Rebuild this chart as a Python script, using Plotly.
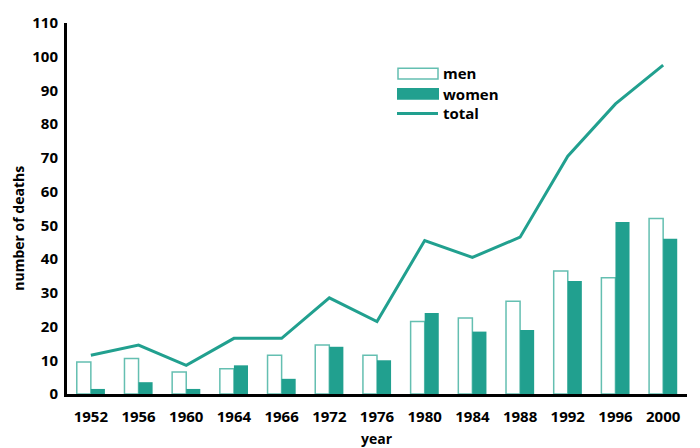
import plotly.graph_objects as go

years = ["1952", "1956", "1960", "1964", "1966", "1972", "1976", "1980",
         "1984", "1988", "1992", "1996", "2000"]
men = [9.5, 10.5, 6.5, 7.5, 11.5, 14.5, 11.5, 21.5, 22.5, 27.5, 36.5, 34.5, 52]
women = [1.5, 3.5, 1.5, 8.5, 4.5, 14, 10, 24, 18.5, 19, 33.5, 51, 46]
total = [11.5, 14.5, 8.5, 16.5, 16.5, 28.5, 21.5, 45.5, 40.5, 46.5, 70.5, 86, 97.5]
y_ticks = list(range(0, 111, 10))

TEAL = "#21a08f"
TEAL_LIGHT = "#64bfb1"
FONT = "Open Sans"

W, H = 700, 448
L, R, T, B = 67, 13, 17, 54
pw, ph = W - L - R, H - T - B


def px(x):
    return (x - L) / pw


def py(y):
    return (H - B - y) / ph


fig = go.Figure()
fig.add_trace(go.Bar(x=years, y=men, name="men",
                     marker=dict(color="white", line=dict(color=TEAL_LIGHT, width=1.5))))
fig.add_trace(go.Bar(x=years, y=women, name="women",
                     marker=dict(color=TEAL, line=dict(width=0))))
fig.add_trace(go.Scatter(x=years, y=total, name="total", mode="lines",
                         line=dict(color=TEAL, width=3)))

shapes = [
    dict(type="rect", xref="paper", yref="paper",
         x0=px(398), x1=px(438), y0=py(74), y1=py(63),
         fillcolor="white", line=dict(color=TEAL_LIGHT, width=1.5)),
    dict(type="rect", xref="paper", yref="paper",
         x0=px(397), x1=px(439), y0=py(95), y1=py(83),
         fillcolor=TEAL, line=dict(width=0)),
    dict(type="line", xref="paper", yref="paper",
         x0=px(397), x1=px(438), y0=py(109), y1=py(109),
         line=dict(color=TEAL, width=3)),
]
annotations = []
for label, yy in [("men", 68), ("women", 89), ("total", 108)]:
    annotations.append(dict(text=label, xref="paper", yref="paper",
                            x=px(441), y=py(yy), xanchor="left", yanchor="middle",
                            showarrow=False,
                            font=dict(family=FONT, size=15, color="black", weight="bold")))
annotations.append(dict(text="number of deaths", xref="paper", yref="paper",
                        x=px(19), y=py(226), xanchor="center", yanchor="middle",
                        textangle=-90, showarrow=False,
                        font=dict(family=FONT, size=14, color="black", weight="bold")))
annotations.append(dict(text="year", xref="paper", yref="paper",
                        x=px(377), y=py(439), xanchor="center", yanchor="middle",
                        showarrow=False,
                        font=dict(family=FONT, size=14, color="black", weight="bold")))

fig.update_layout(
    width=W, height=H,
    margin=dict(l=L, r=R, t=T, b=B, pad=0),
    paper_bgcolor="white", plot_bgcolor="white",
    barmode="group", bargap=0.41, bargroupgap=0,
    showlegend=False, hovermode=False,
    shapes=shapes, annotations=annotations,
    font=dict(family=FONT, size=15, color="black", weight="bold"),
)
fig.update_xaxes(type="category", range=[-0.5, 12.5], showline=True, linecolor="black",
                 linewidth=3, showgrid=False, ticks="", ticklabelstandoff=7,
                 tickfont=dict(family=FONT, size=15, color="black", weight="bold"))
fig.update_yaxes(range=[0, 110], tickvals=y_ticks, showline=True, linecolor="black",
                 linewidth=3, showgrid=False, zeroline=False, ticks="",
                 ticklabelstandoff=3,
                 tickfont=dict(family=FONT, size=15, color="black", weight="bold"))

fig.write_html("out.html", config={"displayModeBar": False},
               post_script="document.body.style.margin='0';document.body.style.overflow='hidden';")
